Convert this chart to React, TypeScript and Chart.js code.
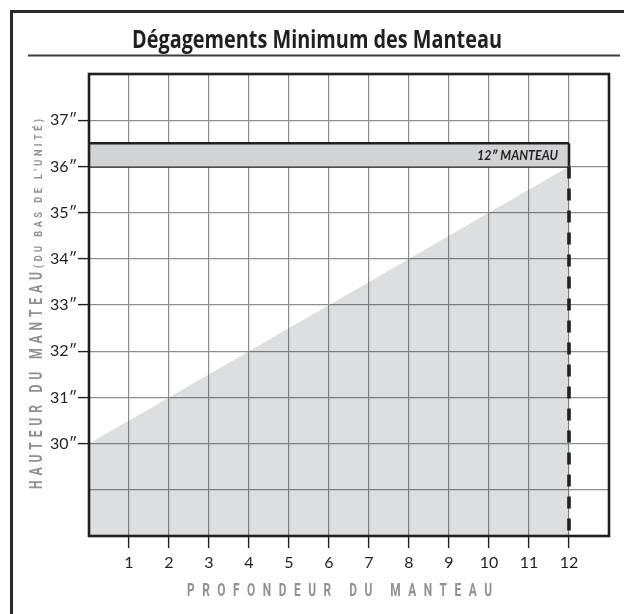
import React, { useEffect, useRef } from 'react';
import { Chart, registerables } from 'chart.js';

Chart.register(...registerables);

// ---------- Texts ----------
const TITLE = 'Dégagements Minimum des Manteau';
const X_TITLE = 'PROFONDEUR DU MANTEAU';
const Y_TITLE = 'HAUTEUR DU MANTEAU';
const Y_SUBTITLE = "(DU BAS DE L'UNITÉ)";
const MANTEL_LABEL = '12″ MANTEAU';

// ---------- Data ----------
// Minimum clearance zone: mantel depth (in) vs. minimum mantel height (in)
const depths = [0, 1, 2, 3, 4, 5, 6, 7, 8, 9, 10, 11, 12];
const minHeights = [30, 30.5, 31, 31.5, 32, 32.5, 33, 33.5, 34, 34.5, 35, 35.5, 36];

// 12" mantel shelf
const mantelDepths = [0, 12];
const mantelBottom = [36, 36];
const mantelTop = [36.5, 36.5];
const mantelEdgeDepth = [12, 12];
const mantelEdgeHeights = [36, 36.5];

// Dashed limit at 12" depth
const limitDepth = [12, 12];
const limitHeights = [36, 28];

// Axes
const X_MIN = 0;
const X_MAX = 13;
const Y_MIN = 28;
const Y_MAX = 38;
const xTickValues = [1, 2, 3, 4, 5, 6, 7, 8, 9, 10, 11, 12];
const xTickLabels = ['1', '2', '3', '4', '5', '6', '7', '8', '9', '10', '11', '12'];
const yTickValues = [30, 31, 32, 33, 34, 35, 36, 37];
const yTickLabels = ['30″', '31″', '32″', '33″', '34″', '35″', '36″', '37″'];

const DARK = '#231f20';
const GRID = '#8e8e8e';
const AXIS_TITLE_GRAY = '#8f9194';

const pts = (xs: number[], ys: number[]) => xs.map((x, i) => ({ x, y: ys[i] }));

function drawSpaced(ctx: CanvasRenderingContext2D, text: string, x: number, y: number, target: number, font: string, sx: number) {
  ctx.font = font;
  const chars = Array.from(text);
  const widths = chars.map((c) => ctx.measureText(c).width * sx);
  const total = widths.reduce((a, b) => a + b, 0);
  const gap = chars.length > 1 ? (target - total) / (chars.length - 1) : 0;
  let cx = x;
  chars.forEach((c, i) => {
    ctx.save();
    ctx.translate(cx, y);
    ctx.scale(sx, 1);
    ctx.fillText(c, 0, 0);
    ctx.restore();
    cx += widths[i] + gap;
  });
}

function drawFitted(ctx: CanvasRenderingContext2D, text: string, x: number, y: number, target: number, font: string, align: 'left' | 'right') {
  ctx.font = font;
  const w = ctx.measureText(text).width;
  const sx = target / w;
  ctx.save();
  ctx.translate(align === 'left' ? x : x - target, y);
  ctx.scale(sx, 1);
  ctx.textAlign = 'left';
  ctx.fillText(text, 0, 0);
  ctx.restore();
}

const decorPlugin = {
  id: 'decor',
  afterDatasetsDraw(chart: any) {
    const { ctx, chartArea: ca, scales } = chart;
    ctx.save();
    // plot frame
    ctx.strokeStyle = DARK;
    ctx.lineWidth = 2.6;
    ctx.strokeRect(ca.left, ca.top, ca.right - ca.left, ca.bottom - ca.top);
    // mantel label
    ctx.fillStyle = DARK;
    ctx.textBaseline = 'alphabetic';
    const lx = scales.x.getPixelForValue(12) - 11;
    const ly = scales.y.getPixelForValue(36.25) + 5;
    drawFitted(ctx, MANTEL_LABEL, lx, ly, 81, 'italic bold 14px Lato, "DejaVu Sans"', 'right');
    ctx.restore();
  },
  afterDraw(chart: any) {
    const { ctx } = chart;
    ctx.save();
    // outer frame (top + left)
    ctx.strokeStyle = '#2a2a2a';
    ctx.lineWidth = 3;
    ctx.beginPath();
    ctx.moveTo(11.5, 630);
    ctx.lineTo(11.5, 11.5);
    ctx.lineTo(640, 11.5);
    ctx.stroke();
    // rule under title
    ctx.strokeStyle = '#3c3c3c';
    ctx.lineWidth = 1.8;
    ctx.beginPath();
    ctx.moveTo(28, 55.5);
    ctx.lineTo(620, 55.5);
    ctx.stroke();
    // main title
    ctx.fillStyle = DARK;
    ctx.textBaseline = 'alphabetic';
    drawFitted(ctx, TITLE, 132, 48, 370, 'bold 25px "Open Sans"', 'left');
    // x axis title
    ctx.fillStyle = AXIS_TITLE_GRAY;
    drawSpaced(ctx, X_TITLE, 187, 595.5, 305, 'bold 18px Roboto', 0.66);
    // y axis title (rotated)
    ctx.save();
    ctx.translate(42, 489);
    ctx.rotate(-Math.PI / 2);
    drawSpaced(ctx, Y_TITLE, 0, 0, 217, 'bold 18px Roboto', 0.68);
    drawSpaced(ctx, Y_SUBTITLE, 221, 0, 149, 'bold 11.5px Roboto', 0.8);
    ctx.restore();
    ctx.restore();
  },
};

export default function App() {
  const ref = useRef<HTMLCanvasElement | null>(null);

  useEffect(() => {
    if (!ref.current) return;
    const noLine = 'rgba(0,0,0,0)';
    const chart = new Chart(ref.current, {
      type: 'line',
      data: {
        datasets: [
          {
            label: 'limit',
            data: pts(limitDepth, limitHeights),
            borderColor: DARK,
            borderWidth: 3.6,
            borderDash: [12, 10],
            borderCapStyle: 'butt',
            pointRadius: 0,
            fill: false,
          },
          {
            label: 'edge',
            data: pts(mantelEdgeDepth, mantelEdgeHeights),
            borderColor: DARK,
            borderWidth: 2.6,
            pointRadius: 0,
            fill: false,
          },
          {
            label: 'mantelTop',
            data: pts(mantelDepths, mantelTop),
            borderColor: DARK,
            borderWidth: 2.6,
            backgroundColor: '#d1d3d4',
            pointRadius: 0,
            fill: '+1',
          },
          {
            label: 'mantelBottom',
            data: pts(mantelDepths, mantelBottom),
            borderColor: DARK,
            borderWidth: 2.6,
            pointRadius: 0,
            fill: false,
          },
          {
            label: 'zone',
            data: pts(depths, minHeights),
            borderColor: noLine,
            borderWidth: 0,
            backgroundColor: 'rgba(30,35,45,0.15)',
            pointRadius: 0,
            fill: 'start',
          },
        ],
      },
      options: {
        animation: false,
        responsive: false,
        maintainAspectRatio: false,
        layout: { padding: { left: 0, top: 74, right: 15, bottom: 0 } },
        plugins: {
          legend: { display: false },
          tooltip: { enabled: false },
          title: { display: false },
        },
        elements: { line: { tension: 0 }, point: { radius: 0 } },
        scales: {
          x: {
            type: 'linear',
            min: X_MIN,
            max: X_MAX,
            afterFit: (s: any) => {
              s.height = 78;
            },
            ticks: {
              stepSize: 1,
              autoSkip: false,
              maxRotation: 0,
              padding: 5,
              color: DARK,
              font: { family: 'Lato, "DejaVu Sans"', size: 16 },
              callback: (v: any) => {
                const i = xTickValues.indexOf(Number(v));
                return i >= 0 ? xTickLabels[i] : '';
              },
            },
            grid: {
              color: GRID,
              lineWidth: 1.2,
              tickLength: 12,
              tickWidth: 1.4,
              tickColor: (c: any) => (xTickValues.includes(c.tick?.value) ? DARK : 'rgba(0,0,0,0)'),
            },
            border: { display: false },
          },
          y: {
            type: 'linear',
            min: Y_MIN,
            max: Y_MAX,
            afterFit: (s: any) => {
              s.width = 89;
            },
            ticks: {
              stepSize: 1,
              autoSkip: false,
              padding: 1,
              color: DARK,
              font: { family: 'Lato, "DejaVu Sans"', size: 16 },
              callback: (v: any) => {
                const i = yTickValues.indexOf(Number(v));
                return i >= 0 ? yTickLabels[i] : '';
              },
            },
            grid: {
              color: GRID,
              lineWidth: 1.2,
              tickLength: 11,
              tickWidth: 1.4,
              tickColor: (c: any) => (yTickValues.includes(c.tick?.value) ? DARK : 'rgba(0,0,0,0)'),
            },
            border: { display: false },
          },
        },
      },
      plugins: [decorPlugin],
    } as any);
    return () => chart.destroy();
  }, []);

  return (
    <div style={{ position: 'fixed', left: 0, top: 0, width: 624, height: 614, background: '#fff' }}>
      <canvas ref={ref} width={624} height={614} style={{ display: 'block', width: 624, height: 614 }} />
    </div>
  );
}
